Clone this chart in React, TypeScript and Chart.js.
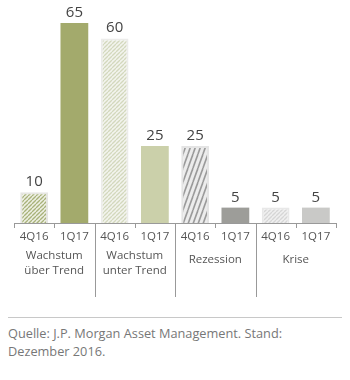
import React, { useEffect, useRef } from "react";
import { Chart, registerables } from "chart.js";

Chart.register(...registerables);

const categories = ["4Q16", "1Q17", "4Q16", "1Q17", "4Q16", "1Q17", "4Q16", "1Q17"];
const values = [10, 65, 60, 25, 25, 5, 5, 5];
const groups = [["Wachstum", "über Trend"], ["Wachstum", "unter Trend"], ["Rezession"], ["Krise"]];
const FONT = "'Open Sans', sans-serif";

function makePattern(bg: string, stripe: string, w: number, h: number, lw: number) {
  const c = document.createElement("canvas");
  c.width = w;
  c.height = h;
  const ctx = c.getContext("2d")!;
  ctx.fillStyle = bg;
  ctx.fillRect(0, 0, w, h);
  ctx.strokeStyle = stripe;
  ctx.lineWidth = lw;
  for (const dx of [-w, 0, w]) {
    ctx.beginPath();
    ctx.moveTo(dx, h);
    ctx.lineTo(dx + w, 0);
    ctx.stroke();
  }
  return ctx.createPattern(c, "repeat")!;
}

export default function App() {
  const ref = useRef<HTMLCanvasElement>(null);
  useEffect(() => {
    const p1 = makePattern("#eef0e4", "#a8b27a", 4, 4, 1.3);
    const p3 = makePattern("#f3f4ee", "#d3d8bd", 4, 4, 1.3);
    const p5 = makePattern("#ececec", "#9a9a9a", 5, 14, 1.6);
    const p7 = makePattern("#f0f0f0", "#d6d6d6", 4, 4, 1.3);
    const colors: any[] = [p1, "#a3aa6c", p3, "#cbd0aa", p5, "#9d9d99", p7, "#c9c9c7"];
    const borders = ["#e6e6e2", "#a3aa6c", "#ececea", "#cbd0aa", "#e4e4e4", "#9d9d99", "#e8e8e8", "#c9c9c7"];
    const borderW = [2, 0, 2, 0, 2, 0, 2, 0];

    const deco = {
      id: "deco",
      afterDraw(chart: any) {
        const ctx = chart.ctx;
        const ca = chart.chartArea;
        const xs = chart.scales.x;
        const meta = chart.getDatasetMeta(0);
        ctx.save();
        // value labels
        ctx.fillStyle = "#444";
        ctx.font = `15px ${FONT}`;
        ctx.textAlign = "center";
        ctx.textBaseline = "alphabetic";
        meta.data.forEach((bar: any, i: number) => {
          ctx.fillText(String(values[i]), bar.x, bar.y - 6);
        });
        // axis
        const yb = ca.bottom;
        ctx.strokeStyle = "#999";
        ctx.lineWidth = 1;
        ctx.beginPath();
        ctx.moveTo(ca.left, yb + 0.5);
        ctx.lineTo(ca.right, yb + 0.5);
        ctx.stroke();
        const bounds: number[] = [ca.left];
        for (let i = 0; i < categories.length - 1; i++) {
          bounds.push((xs.getPixelForValue(i) + xs.getPixelForValue(i + 1)) / 2);
        }
        bounds.push(ca.right);
        bounds.forEach((bx, j) => {
          const isDiv = j % 2 === 0 && j > 0 && j < bounds.length - 1;
          const x = Math.round(bx) + 0.5;
          ctx.beginPath();
          ctx.moveTo(x, yb);
          ctx.lineTo(x, yb + (isDiv ? 74 : 5));
          ctx.stroke();
        });
        // tick labels
        ctx.fillStyle = "#555";
        ctx.font = `11.5px ${FONT}`;
        categories.forEach((c, i) => {
          ctx.fillText(c, xs.getPixelForValue(i), yb + 17);
        });
        // group labels
        ctx.font = `11.5px ${FONT}`;
        groups.forEach((g, k) => {
          const cx = (bounds[2 * k] + bounds[2 * k + 2]) / 2;
          if (g.length === 2) {
            ctx.fillText(g[0], cx, yb + 36);
            ctx.fillText(g[1], cx, yb + 51);
          } else {
            ctx.fillText(g[0], cx, yb + 40);
          }
        });
        ctx.restore();
      },
    };

    const chart = new Chart(ref.current!, {
      type: "bar",
      data: {
        labels: categories.map((c, i) => c + "_" + i),
        datasets: [
          {
            data: values,
            backgroundColor: colors,
            borderColor: borders,
            borderWidth: borderW,
            barPercentage: 0.69,
            categoryPercentage: 1,
          },
        ],
      },
      options: {
        responsive: false,
        animation: false,
        devicePixelRatio: 1,
        layout: { padding: { left: 6, right: 6, top: 23, bottom: 85 } },
        plugins: { legend: { display: false }, tooltip: { enabled: false } },
        scales: {
          x: { display: false },
          y: { display: false, min: 0, max: 65 },
        },
      },
      plugins: [deco],
    });
    return () => chart.destroy();
  }, []);

  return (
    <div style={{ position: "absolute", top: 0, left: 8, width: 334 }}>
      <canvas ref={ref} width={334} height={308} style={{ display: "block" }} />
      <div
        style={{
          marginTop: 9,
          borderTop: "1px solid #c8c8c8",
          paddingTop: 6,
          fontFamily: FONT,
          fontSize: 12.75,
          lineHeight: "18px",
          color: "#777",
        }}
      >
        Quelle: J.P. Morgan Asset Management. Stand:
        <br />
        Dezember 2016.
      </div>
    </div>
  );
}
